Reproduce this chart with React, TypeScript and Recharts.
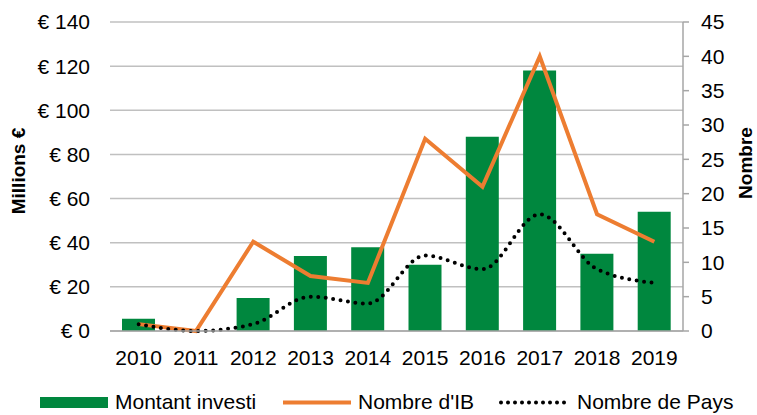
import React from 'react';
import { ComposedChart, Bar, Line, XAxis, YAxis, CartesianGrid, Legend } from 'recharts';

const years = ['2010', '2011', '2012', '2013', '2014', '2015', '2016', '2017', '2018', '2019'];
const montantInvesti = [5.5, 0, 15, 34, 38, 30, 88, 118, 35, 54];
const nombreIB = [1, 0, 13, 8, 7, 28, 21, 40, 17, 13];
const nombrePays = [1, 0, 1, 5, 4, 11, 9, 17, 9, 7];
const leftTicks = [0, 20, 40, 60, 80, 100, 120, 140];
const rightTicks = [0, 5, 10, 15, 20, 25, 30, 35, 40, 45];

const data = years.map((y, i) => ({
  year: y,
  montant: montantInvesti[i],
  ib: nombreIB[i],
  pays: nombrePays[i],
}));

const GREEN = '#00873E';
const ORANGE = '#ED7D31';
const FONT = '"Liberation Sans", Arial, sans-serif';
const FS = 21;

const LegendContent = () => (
  <svg width={757} height={26} style={{ display: 'block' }}>
    <rect x={40} y={8} width={68} height={11} fill={GREEN} />
    <text x={115} y={20} fontSize={FS} fontFamily={FONT} fill="#000">Montant investi</text>
    <line x1={283} y1={13.5} x2={351} y2={13.5} stroke={ORANGE} strokeWidth={4} />
    <text x={358} y={20} fontSize={FS} fontFamily={FONT} fill="#000">Nombre d'IB</text>
    <line x1={501} y1={13.5} x2={566} y2={13.5} stroke="#000" strokeWidth={4} strokeDasharray="0 7" strokeLinecap="round" />
    <text x={577} y={20} fontSize={FS} fontFamily={FONT} fill="#000">Nombre de Pays</text>
  </svg>
);

const LeftTitle = () => (
  <text
    transform="translate(18.5,171) rotate(-90)"
    textAnchor="middle"
    dominantBaseline="central"
    fontSize={19}
    fontWeight="bold"
    fontFamily={FONT}
    fill="#000"
  >
    Millions €
  </text>
);

const RightTitle = () => (
  <text
    transform="translate(745,163) rotate(-90)"
    textAnchor="middle"
    dominantBaseline="central"
    fontSize={19}
    fontWeight="bold"
    fontFamily={FONT}
    fill="#000"
  >
    Nombre
  </text>
);

export default function App() {
  return (
    <div style={{ position: 'absolute', left: 0, top: 0, width: 757, height: 415, background: '#fff' }}>
      <ComposedChart
        width={757}
        height={415}
        data={data}
        margin={{ top: 22, right: 0, left: 0, bottom: 0 }}
        style={{ fontFamily: FONT }}
      >
        <CartesianGrid yAxisId="left" horizontal vertical={false} stroke="#c0c0c0" strokeWidth={1.5} />
        <XAxis
          dataKey="year"
          height={58}
          tickLine={false}
          tickSize={0}
          tickMargin={19}
          axisLine={{ stroke: '#a6a6a6', strokeWidth: 1.5 }}
          tick={{ fill: '#000', fontSize: FS, fontFamily: FONT }}
          interval={0}
        />
        <YAxis
          yAxisId="left"
          orientation="left"
          width={110}
          domain={[0, 140]}
          ticks={leftTicks}
          tickFormatter={(v) => `€ ${v}`}
          axisLine={false}
          tickLine={false}
          tickSize={0}
          tickMargin={20}
          tick={{ fill: '#000', fontSize: FS, fontFamily: FONT }}
          label={{ content: <LeftTitle /> }}
        />
        <YAxis
          yAxisId="right"
          orientation="right"
          width={74}
          domain={[0, 45]}
          ticks={rightTicks}
          axisLine={{ stroke: '#a6a6a6', strokeWidth: 1.5 }}
          tickLine={{ stroke: '#a6a6a6', strokeWidth: 1.5 }}
          tickSize={6}
          tickMargin={12}
          tick={{ fill: '#000', fontSize: FS, fontFamily: FONT }}
          label={{ content: <RightTitle /> }}
        />
        <Bar yAxisId="left" dataKey="montant" name="Montant investi" fill={GREEN} barSize={33} isAnimationActive={false} />
        <Line
          yAxisId="right"
          dataKey="ib"
          name="Nombre d'IB"
          type="linear"
          stroke={ORANGE}
          strokeWidth={4}
          dot={false}
          activeDot={false}
          isAnimationActive={false}
        />
        <Line
          yAxisId="right"
          dataKey="pays"
          name="Nombre de Pays"
          type="monotone"
          stroke="#000"
          strokeWidth={4}
          strokeDasharray="0 7.5"
          strokeLinecap="round"
          dot={false}
          activeDot={false}
          isAnimationActive={false}
        />
        <Legend
          content={<LegendContent />}
          wrapperStyle={{ position: 'absolute', left: 0, top: 389, width: 757, height: 26 }}
        />
      </ComposedChart>
    </div>
  );
}
